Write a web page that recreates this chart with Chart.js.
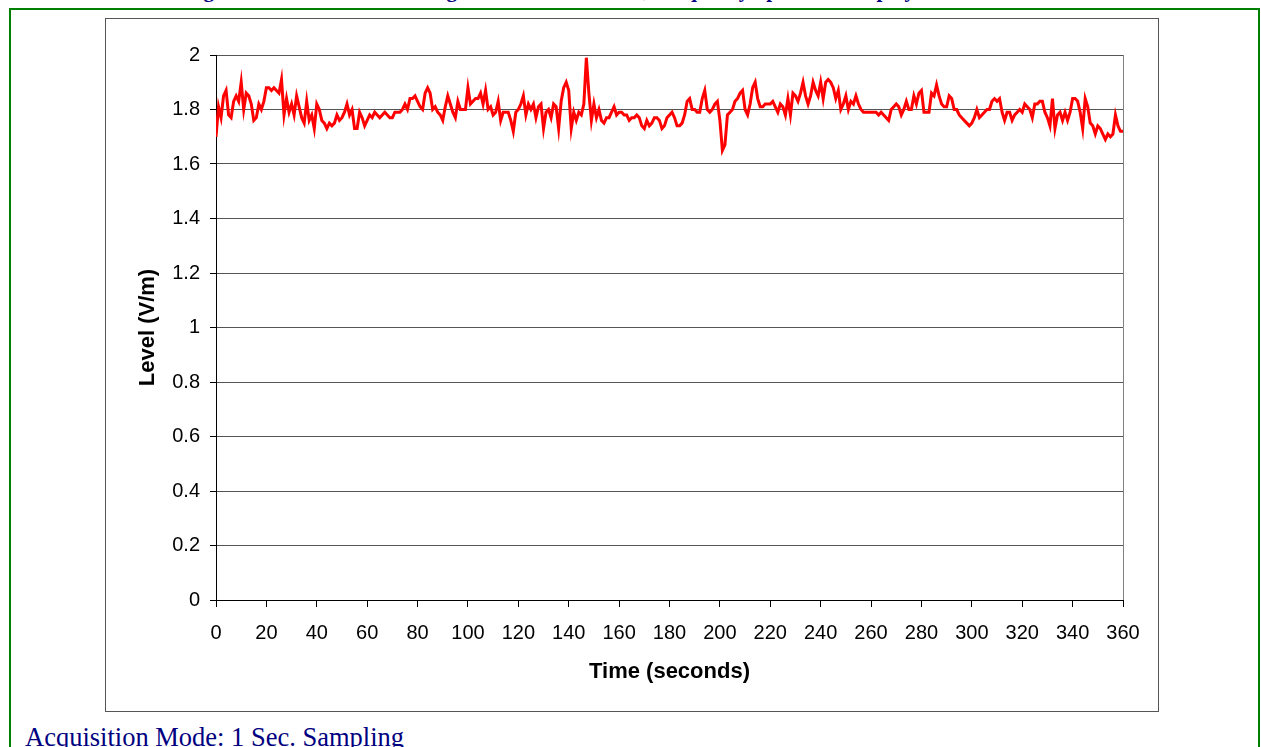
<!DOCTYPE html>
<html lang="en">
<head>
  <meta charset="UTF-8" />
  <title>Level vs Time</title>
  <script src="https://cdn.jsdelivr.net/npm/chart.js"></script>
  <style>
    html, body { margin: 0; padding: 0; background: #fff; overflow: hidden; }
    body { width: 1261px; height: 747px; position: relative; }
    .frame { position: absolute; left: 9px; top: 8px; width: 1247px; height: 800px; border: 2px solid #008000; border-bottom: none; }
    .cuttitle { position: absolute; left: 0; width: 1100px; top: -20px; text-align: center; font: bold 21px "Liberation Serif", "Times New Roman", serif; line-height: 20px; color: #000080; white-space: nowrap; }
    .box { position: absolute; left: 105px; top: 18px; width: 1052px; height: 692px; border: 1px solid #555; background: #fff; }
    canvas { position: absolute; left: 0; top: 0; }
    .caption { position: absolute; left: 25px; top: 724px; font: 26.5px "Liberation Serif", "Times New Roman", serif; line-height: 26.5px; color: #000080; white-space: nowrap; }
  </style>
</head>
<body>
  <div class="cuttitle">Figure 7: Electric Field Strength Level versus Time, Frequency Spectrum Display</div>
  <div class="frame"></div>
  <div class="box"><canvas id="chartLevel" width="1052" height="692"></canvas></div>
  <div class="caption">Acquisition Mode: 1 Sec. Sampling</div>

<script>
  // one sample per second, 0..360 s
  const seconds = Array.from({ length: 361 }, (_, i) => i);

  // level readings (V/m)
  const level = [
    1.70, 1.81, 1.77, 1.85, 1.87, 1.78, 1.77, 1.83, 1.85, 1.83,
    1.90, 1.80, 1.86, 1.85, 1.82, 1.76, 1.77, 1.82, 1.80, 1.83,
    1.88, 1.88, 1.87, 1.88, 1.87, 1.86, 1.91, 1.78, 1.84, 1.79,
    1.82, 1.78, 1.85, 1.81, 1.77, 1.75, 1.83, 1.76, 1.78, 1.73,
    1.82, 1.80, 1.76, 1.75, 1.73, 1.75, 1.74, 1.75, 1.78, 1.76,
    1.77, 1.79, 1.82, 1.78, 1.80, 1.73, 1.73, 1.79, 1.77, 1.74,
    1.76, 1.78, 1.77, 1.79, 1.78, 1.77, 1.78, 1.79, 1.78, 1.77,
    1.77, 1.79, 1.79, 1.79, 1.80, 1.82, 1.80, 1.84, 1.84, 1.85,
    1.83, 1.81, 1.80, 1.86, 1.88, 1.86, 1.80, 1.81, 1.79, 1.78,
    1.76, 1.81, 1.85, 1.82, 1.79, 1.77, 1.83, 1.80, 1.80, 1.80,
    1.88, 1.82, 1.83, 1.84, 1.84, 1.86, 1.82, 1.87, 1.80, 1.81,
    1.78, 1.79, 1.83, 1.76, 1.79, 1.79, 1.79, 1.76, 1.72, 1.79,
    1.80, 1.82, 1.85, 1.78, 1.82, 1.80, 1.82, 1.77, 1.81, 1.82,
    1.73, 1.79, 1.80, 1.77, 1.82, 1.81, 1.73, 1.83, 1.88, 1.90,
    1.87, 1.73, 1.79, 1.76, 1.79, 1.78, 1.82, 1.99, 1.86, 1.76,
    1.82, 1.77, 1.80, 1.76, 1.75, 1.77, 1.77, 1.79, 1.81, 1.78,
    1.79, 1.79, 1.78, 1.78, 1.76, 1.77, 1.77, 1.78, 1.77, 1.74,
    1.73, 1.76, 1.74, 1.75, 1.77, 1.77, 1.76, 1.73, 1.74, 1.77,
    1.78, 1.79, 1.77, 1.74, 1.74, 1.75, 1.78, 1.83, 1.84, 1.80,
    1.80, 1.79, 1.79, 1.84, 1.87, 1.80, 1.79, 1.80, 1.82, 1.83,
    1.76, 1.65, 1.67, 1.78, 1.79, 1.80, 1.83, 1.84, 1.86, 1.87,
    1.80, 1.78, 1.82, 1.88, 1.90, 1.84, 1.81, 1.81, 1.82, 1.82,
    1.82, 1.83, 1.81, 1.79, 1.82, 1.81, 1.78, 1.84, 1.78, 1.86,
    1.85, 1.83, 1.86, 1.90, 1.85, 1.82, 1.85, 1.90, 1.87, 1.85,
    1.90, 1.84, 1.90, 1.91, 1.90, 1.88, 1.84, 1.87, 1.80, 1.82,
    1.85, 1.80, 1.83, 1.82, 1.85, 1.82, 1.80, 1.79, 1.79, 1.79,
    1.79, 1.79, 1.79, 1.78, 1.79, 1.78, 1.77, 1.76, 1.80, 1.81,
    1.82, 1.81, 1.78, 1.80, 1.83, 1.80, 1.80, 1.85, 1.82, 1.86,
    1.87, 1.79, 1.79, 1.79, 1.86, 1.85, 1.89, 1.85, 1.82, 1.81,
    1.81, 1.85, 1.84, 1.80, 1.80, 1.78, 1.77, 1.76, 1.75, 1.74,
    1.75, 1.77, 1.80, 1.77, 1.78, 1.79, 1.80, 1.80, 1.83, 1.84,
    1.83, 1.84, 1.79, 1.76, 1.79, 1.79, 1.76, 1.78, 1.79, 1.80,
    1.79, 1.82, 1.81, 1.80, 1.77, 1.82, 1.82, 1.83, 1.83, 1.79,
    1.77, 1.74, 1.84, 1.73, 1.78, 1.79, 1.76, 1.79, 1.76, 1.79,
    1.84, 1.84, 1.83, 1.79, 1.73, 1.84, 1.81, 1.75, 1.74, 1.71,
    1.74, 1.73, 1.71, 1.69, 1.71, 1.70, 1.71, 1.78, 1.74, 1.72,
    1.72
  ];

  const xTitle = 'Time (seconds)';
  const yTitle = 'Level (V/m)';

  const tickFont = { family: 'Liberation Sans, Arial, sans-serif', size: 20 };
  const titleFont = { family: 'Liberation Sans, Arial, sans-serif', size: 22, weight: 'bold' };

  // grey line on the right edge of the plot area, like the Excel frame
  const plotFrame = {
    id: 'plotFrame',
    beforeDatasetsDraw(chart) {
      const { ctx, chartArea: a } = chart;
      ctx.save();
      ctx.strokeStyle = '#808080';
      ctx.lineWidth = 1;
      ctx.beginPath();
      ctx.moveTo(Math.round(a.right) + 0.5, a.top);
      ctx.lineTo(Math.round(a.right) + 0.5, a.bottom);
      ctx.stroke();
      ctx.restore();
    }
  };

  new Chart(document.getElementById('chartLevel'), {
    type: 'line',
    data: {
      datasets: [{
        label: yTitle,
        data: level.map((v, i) => ({ x: seconds[i], y: v })),
        borderColor: '#ff0000',
        borderWidth: 3,
        pointRadius: 0,
        tension: 0,
        fill: false
      }]
    },
    options: {
      responsive: false,
      animation: false,
      layout: { padding: { top: 36, right: 35, left: 0, bottom: 0 } },
      plugins: {
        legend: { display: false },
        tooltip: { enabled: false }
      },
      scales: {
        x: {
          type: 'linear',
          min: 0,
          max: 360,
          afterFit(s) { s.height = 111; s.paddingLeft = 0; s.paddingRight = 0; },
          ticks: { stepSize: 20, color: '#000', font: tickFont, padding: 14, maxRotation: 0 },
          grid: { drawOnChartArea: false, tickLength: 7, tickColor: '#000' },
          border: { display: true, color: '#000', width: 1 },
          title: { display: true, text: xTitle, color: '#000', font: titleFont, padding: { top: 0, bottom: 26 } }
        },
        y: {
          min: 0,
          max: 2,
          afterFit(s) { s.width = 110; s.paddingTop = 0; s.paddingBottom = 0; },
          ticks: {
            stepSize: 0.2, color: '#000', font: tickFont, padding: 10,
            callback: v => String(Number(v.toFixed(1)))
          },
          grid: { color: '#555', lineWidth: 1, tickLength: 6, tickColor: '#000' },
          border: { display: true, color: '#000', width: 1 },
          title: { display: true, text: yTitle, color: '#000', font: titleFont, padding: { top: 29, bottom: 0 } }
        }
      }
    },
    plugins: [plotFrame]
  });
</script>
</body>
</html>
